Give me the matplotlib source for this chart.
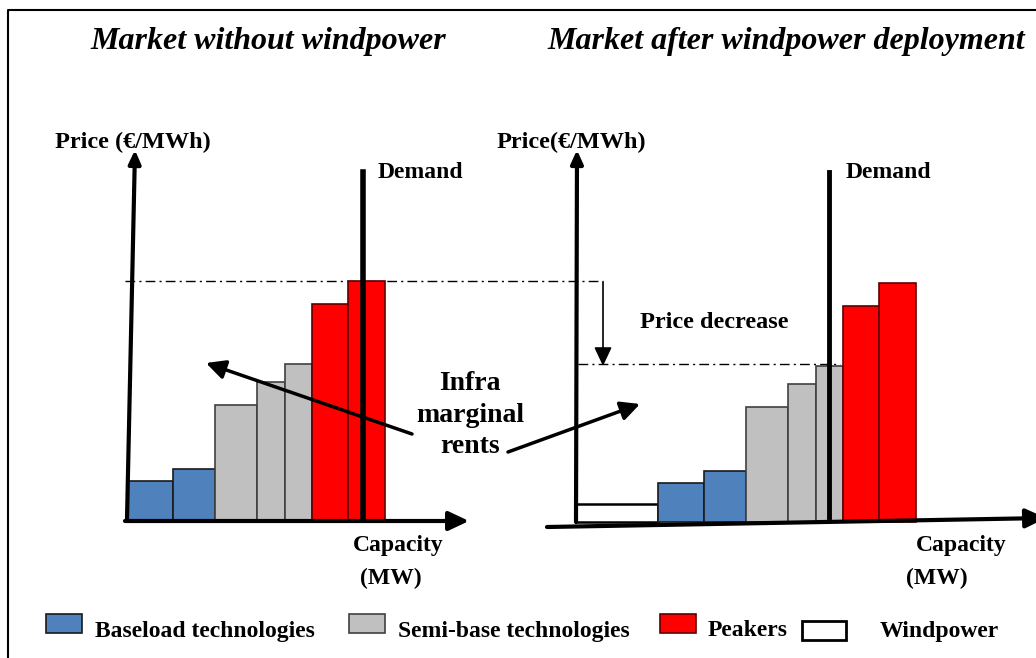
import numpy as np
import matplotlib
matplotlib.use("Agg")
import matplotlib.pyplot as plt
from matplotlib.patches import Rectangle

# supply stack (same plants in both markets): capacity width and price height
capacity = [46, 42, 42, 28, 27, 36, 37]
price = [39, 51, 115, 138, 156, 216, 239]
techs = ["base", "base", "semi", "semi", "semi", "peak", "peak"]
wind_capacity = 82
wind_price = 18

colors = {"base": "#4F81BD", "semi": "#C0C0C0", "peak": "#FF0000", "wind": "white"}
edges = {"base": "#1a1a1a", "semi": "#404040", "peak": "#600000", "wind": "black"}

legend_labels = ["Baseload technologies", "Semi-base technologies", "Peakers", "Windpower"]
titles = ["Market without windpower", "Market after windpower deployment"]

W, H = 1036, 658
PX = 72 / 100  # points per pixel
DASHDOT = (0, (7, 3, 1.5, 3))

plt.rcParams["font.family"] = ["Liberation Serif", "DejaVu Serif"]
plt.rcParams["font.weight"] = "bold"

fig = plt.figure(figsize=(W / 100, H / 100), dpi=100)
ax = fig.add_axes([0, 0, 1, 1])
ax.set_xlim(0, W)
ax.set_ylim(0, H)
ax.axis("off")


def py(y):
    # pixel row -> axes y
    return H - y


def arrow(x0, y0, x1, y1, lw=3, hw=7, hl=15):
    # hw: half width of head in px, hl: head length in px
    ax.annotate("", xy=(x1, py(y1)), xytext=(x0, py(y0)), annotation_clip=False,
                arrowprops=dict(arrowstyle="-|>,head_width=%g,head_length=%g" % (hw * PX, hl * PX),
                                lw=lw, color="black", shrinkA=0, shrinkB=0,
                                mutation_scale=1))


def stack(x0, y0, caps, prices, kinds):
    lefts = x0 + np.concatenate([[0], np.cumsum(caps)[:-1]])
    for left, w, h, k in zip(lefts, caps, prices, kinds):
        ax.bar(left, h, width=w, bottom=py(y0), align="edge",
               color=colors[k], edgecolor=edges[k], linewidth=1.2, zorder=2)


# frame
ax.plot([8, 8, W], [0, py(10), py(10)], color="black", lw=1.5)

# titles
ax.text(268, py(42), titles[0], ha="center", va="center", fontsize=23, style="italic")
ax.text(786, py(42), titles[1], ha="center", va="center", fontsize=23, style="italic")

# ---- left panel ----
stack(127, 520, capacity, price, techs)
arrow(127, 519, 135, 150, lw=3, hw=5, hl=11)
arrow(125, 521, 469, 521, lw=3, hw=8, hl=17)
ax.plot([363, 363], [py(172), py(517)], color="black", lw=4, zorder=3)
ax.plot([125, 603], [py(281), py(281)], color="black", lw=1, ls=DASHDOT, zorder=1)
ax.text(55, py(142), "Price (€/MWh)", ha="left", va="center", fontsize=17.5)
ax.text(378, py(172), "Demand", ha="left", va="center", fontsize=17)
ax.text(353, py(546), "Capacity", ha="left", va="center", fontsize=17)
ax.text(360, py(578), "(MW)", ha="left", va="center", fontsize=17)

# ---- right panel ----
ax.bar(576, wind_price, width=wind_capacity, bottom=py(522), align="edge",
       color=colors["wind"], edgecolor=edges["wind"], linewidth=1.8, zorder=2)
stack(576 + wind_capacity, 522, capacity, price, techs)
arrow(576, 522, 577, 150, lw=3, hw=5, hl=11)
arrow(547, 527, 1046, 518, lw=3, hw=8, hl=17)
ax.plot([829, 829], [py(172), py(517)], color="black", lw=3.5, zorder=3)
ax.plot([578, 840], [py(364), py(364)], color="black", lw=1, ls=DASHDOT, zorder=1)
arrow(603, 282, 603, 366, lw=1.2, hw=7.5, hl=16)
ax.text(497, py(142), "Price(€/MWh)", ha="left", va="center", fontsize=17.5)
ax.text(846, py(172), "Demand", ha="left", va="center", fontsize=17)
ax.text(640, py(323), "Price decrease", ha="left", va="center", fontsize=17.5)
ax.text(916, py(546), "Capacity", ha="left", va="center", fontsize=17)
ax.text(906, py(578), "(MW)", ha="left", va="center", fontsize=17)

# infra-marginal rents
ax.text(470, py(415), "Infra\nmarginal\nrents", ha="center", va="center",
        fontsize=20, linespacing=1.32)
arrow(412, 434, 206, 363, lw=2.5, hw=8, hl=16)
arrow(508, 452, 640, 404, lw=2.5, hw=8, hl=16)

# legend
legend_x = [46, 349, 660, 802]
text_x = [95, 398, 708, 880]
for k, lx, tx, lab in zip(["base", "semi", "peak", "wind"], legend_x, text_x, legend_labels):
    ytop = 614 if k != "wind" else 621
    ax.add_patch(Rectangle((lx, py(ytop + 19)), 36 if k != "wind" else 44, 19,
                           facecolor=colors[k], edgecolor=edges[k], lw=1.2 if k != "wind" else 2))
    ax.text(tx, py(631), lab, ha="left", va="center", fontsize=17)

fig.savefig("out.png", dpi=100)
